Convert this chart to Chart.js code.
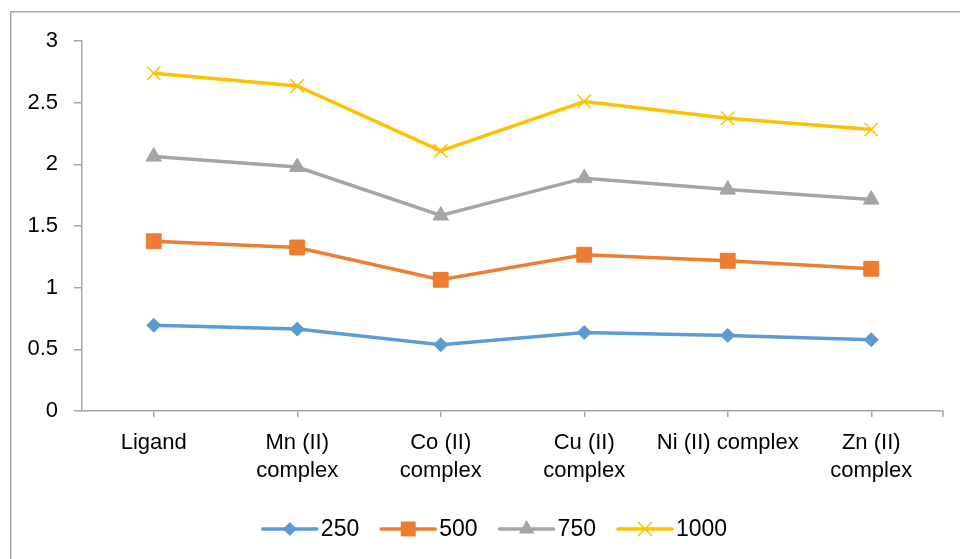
<!DOCTYPE html>
<html>
<head>
<meta charset="utf-8">
<script src="https://cdn.jsdelivr.net/npm/chart.js@4/dist/chart.umd.min.js"></script>
<style>
  html, body { margin: 0; padding: 0; background: #fff; }
  #wrap { position: relative; width: 960px; height: 559px; }
</style>
</head>
<body>
<div id="wrap"><canvas id="c" width="960" height="559"></canvas></div>
<script>
// Categories (multi-line where the label wraps)
const categories = [
  'Ligand',
  ['Mn (II)', 'complex'],
  ['Co (II)', 'complex'],
  ['Cu (II)', 'complex'],
  'Ni (II) complex',
  ['Zn (II)', 'complex']
];

// Series values
const series250  = [0.695, 0.664, 0.537, 0.637, 0.613, 0.578];
const series500  = [1.376, 1.326, 1.064, 1.267, 1.218, 1.153];
const series750  = [2.063, 1.978, 1.585, 1.888, 1.795, 1.714];
const series1000 = [2.739, 2.636, 2.109, 2.509, 2.374, 2.282];

const seriesNames = ['250', '500', '750', '1000'];

// Y axis range
const yMin = 0, yMax = 3, yStep = 0.5;

const FONT = '"Liberation Sans", Arial, sans-serif';
const AXIS_GREY = '#a6a6a6';

// Outer frame of the chart
const framePlugin = {
  id: 'frame',
  beforeDraw(chart) {
    const ctx = chart.ctx;
    ctx.save();
    ctx.fillStyle = '#fff';
    ctx.fillRect(0, 0, chart.width, chart.height);
    ctx.strokeStyle = AXIS_GREY;
    ctx.lineWidth = 1.5;
    ctx.strokeRect(10.75, 11.75, 2000, 2000);
    ctx.restore();
  },
  // closing tick mark at the right end of the category axis
  afterDatasetsDraw(chart) {
    const a = chart.chartArea;
    const ctx = chart.ctx;
    ctx.save();
    ctx.strokeStyle = AXIS_GREY;
    ctx.lineWidth = 1.5;
    ctx.beginPath();
    ctx.moveTo(a.right, a.bottom);
    ctx.lineTo(a.right, a.bottom + 6);
    ctx.stroke();
    ctx.restore();
  }
};

// Draws a legend marker shape
function drawMarker(ctx, style, x, y, r, color, bw) {
  ctx.save();
  ctx.fillStyle = color;
  ctx.strokeStyle = color;
  ctx.lineWidth = bw;
  ctx.beginPath();
  if (style === 'rectRot') {
    ctx.moveTo(x, y - r); ctx.lineTo(x + r, y); ctx.lineTo(x, y + r); ctx.lineTo(x - r, y);
    ctx.closePath(); ctx.fill();
  } else if (style === 'rect') {
    const s = Math.SQRT1_2 * r;
    ctx.fillRect(x - s, y - s, 2 * s, 2 * s);
  } else if (style === 'triangle') {
    const h = r;
    ctx.moveTo(x, y - h);
    ctx.lineTo(x + h * Math.sin(2 * Math.PI / 3), y - h * Math.cos(2 * Math.PI / 3));
    ctx.lineTo(x - h * Math.sin(2 * Math.PI / 3), y - h * Math.cos(2 * Math.PI / 3));
    ctx.closePath(); ctx.fill();
  } else if (style === 'crossRot') {
    const d = Math.SQRT1_2 * r;
    ctx.moveTo(x - d, y - d); ctx.lineTo(x + d, y + d);
    ctx.moveTo(x + d, y - d); ctx.lineTo(x - d, y + d);
    ctx.stroke();
  }
  ctx.restore();
}

// Legend row under the plot: line sample with marker, then series name
const lineLegendPlugin = {
  id: 'lineLegend',
  afterDraw(chart) {
    const ctx = chart.ctx;
    const sets = chart.data.datasets;
    const lineLen = 54, gapText = 4, gapItem = 22;
    ctx.save();
    ctx.font = '23px ' + FONT;
    ctx.textBaseline = 'middle';
    ctx.textAlign = 'left';
    const widths = sets.map(d => ctx.measureText(d.label).width);
    let total = 0;
    widths.forEach((w, i) => { total += lineLen + gapText + w + (i < widths.length - 1 ? gapItem : 0); });
    let x = 495 - total / 2;
    const y = 529;
    sets.forEach((d, i) => {
      ctx.strokeStyle = d.borderColor;
      ctx.lineWidth = d.borderWidth;
      ctx.lineCap = 'round';
      ctx.beginPath();
      ctx.moveTo(x, y); ctx.lineTo(x + lineLen, y);
      ctx.stroke();
      drawMarker(ctx, d.pointStyle, x + lineLen / 2, y, d.pointRadius, d.pointBackgroundColor, d.pointBorderWidth);
      ctx.fillStyle = '#000';
      ctx.fillText(d.label, x + lineLen + gapText, y + 1);
      x += lineLen + gapText + widths[i] + gapItem;
    });
    ctx.restore();
  }
};

function makeSet(label, data, color, style, radius, bw) {
  return {
    label, data,
    borderColor: color,
    backgroundColor: color,
    borderWidth: 3.5,
    pointStyle: style,
    pointRadius: radius,
    pointHoverRadius: radius,
    pointBackgroundColor: color,
    pointBorderColor: color,
    pointBorderWidth: bw,
    tension: 0,
    fill: false
  };
}

new Chart(document.getElementById('c'), {
  type: 'line',
  data: {
    labels: categories,
    datasets: [
      makeSet(seriesNames[0], series250,  '#5b9bd5', 'rectRot',  7,   1),
      makeSet(seriesNames[1], series500,  '#ed7d31', 'rect',     10.5, 1),
      makeSet(seriesNames[2], series750,  '#a5a5a5', 'triangle', 9,   1),
      makeSet(seriesNames[3], series1000, '#ffc000', 'crossRot', 9.5, 1.5)
    ]
  },
  options: {
    responsive: false,
    animation: false,
    devicePixelRatio: 1,
    layout: { padding: { top: 41, right: 17, bottom: 0, left: 0 } },
    plugins: {
      legend: { display: false },
      tooltip: { enabled: false },
      title: { display: false }
    },
    scales: {
      x: {
        type: 'category',
        offset: true,
        grid: {
          offset: false,
          drawOnChartArea: false,
          drawTicks: true,
          tickLength: 6,
          color: AXIS_GREY,
          lineWidth: 1.5
        },
        border: { display: true, color: AXIS_GREY, width: 1.5 },
        ticks: {
          color: '#000',
          font: { family: FONT, size: 22, lineHeight: 1.28 },
          padding: 12,
          maxRotation: 0,
          autoSkip: false
        },
        afterFit(scale) { scale.height = 148; }
      },
      y: {
        min: yMin,
        max: yMax,
        grid: {
          drawOnChartArea: false,
          drawTicks: true,
          tickLength: 8,
          color: AXIS_GREY,
          lineWidth: 1.5
        },
        border: { display: true, color: AXIS_GREY, width: 1.5 },
        ticks: {
          stepSize: yStep,
          color: '#000',
          font: { family: FONT, size: 22 },
          padding: 16,
          callback: v => String(Number(v.toFixed(1)))
        },
        afterFit(scale) { scale.width = 82; }
      }
    }
  },
  plugins: [framePlugin, lineLegendPlugin]
});
</script>
</body>
</html>
